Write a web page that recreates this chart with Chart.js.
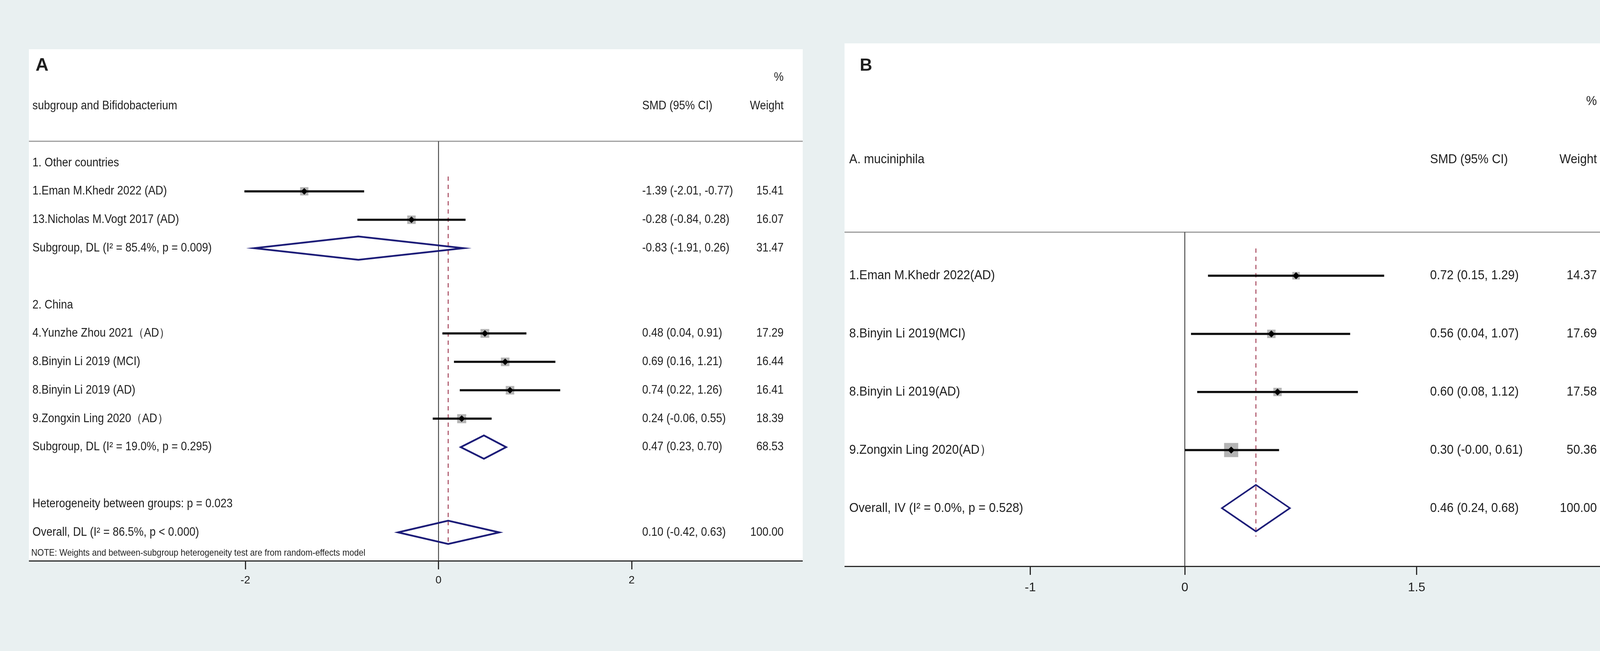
<!DOCTYPE html>
<html>
<head>
<meta charset="utf-8">
<script src="https://cdn.jsdelivr.net/npm/chart.js@4.4.1/dist/chart.umd.min.js"></script>
<style>
  html, body { margin: 0; padding: 0; background: #e9f0f1; }
  body { width: 4211px; height: 1667px; position: relative; overflow: hidden; }
  canvas { position: absolute; }
  #chartA { left: 74px; top: 126px; }
  #chartB { left: 2162px; top: 111px; }
</style>
</head>
<body>
<canvas id="chartA" width="1981" height="1414"></canvas>
<canvas id="chartB" width="1980" height="1449"></canvas>
<script>
// ---------- Panel A : subgroup and Bifidobacterium ----------
const studiesA = [
  "1.Eman M.Khedr 2022 (AD)",
  "13.Nicholas M.Vogt 2017 (AD)",
  "4.Yunzhe Zhou 2021（AD）",
  "8.Binyin Li 2019 (MCI)",
  "8.Binyin Li 2019 (AD)",
  "9.Zongxin Ling 2020（AD）"
];
const rowsA = [5, 6, 10, 11, 12, 13];
const esA = [-1.39, -0.28, 0.48, 0.69, 0.74, 0.24];
const loA = [-2.01, -0.84, 0.04, 0.16, 0.22, -0.06];
const hiA = [-0.77, 0.28, 0.91, 1.21, 1.26, 0.55];
const weightsA = [15.41, 16.07, 17.29, 16.44, 16.41, 18.39];

const pooledLabelsA = [
  "Subgroup, DL (I² = 85.4%, p = 0.009)",
  "Subgroup, DL (I² = 19.0%, p = 0.295)",
  "Overall, DL (I² = 86.5%, p < 0.000)"
];
const pooledRowsA = [7, 14, 17];
const pooledEsA = [-0.83, 0.47, 0.10];
const pooledLoA = [-1.91, 0.23, -0.42];
const pooledHiA = [0.26, 0.70, 0.63];
const pooledWeightsA = [31.47, 68.53, 100.00];

const groupLabelsA = ["1. Other countries", "2. China", "Heterogeneity between groups: p = 0.023"];
const groupRowsA = [4, 9, 16];
const ticksA = [-2, 0, 2];

// ---------- Panel B : A. muciniphila ----------
const studiesB = [
  "1.Eman M.Khedr 2022(AD)",
  "8.Binyin Li 2019(MCI)",
  "8.Binyin Li 2019(AD)",
  "9.Zongxin Ling 2020(AD）"
];
const rowsB = [4, 5, 6, 7];
const esB = [0.72, 0.56, 0.60, 0.30];
const loB = [0.15, 0.04, 0.08, -0.00];
const hiB = [1.29, 1.07, 1.12, 0.61];
const weightsB = [14.37, 17.69, 17.58, 50.36];

const pooledLabelsB = ["Overall, IV (I² = 0.0%, p = 0.528)"];
const pooledRowsB = [8];
const pooledEsB = [0.46];
const pooledLoB = [0.24];
const pooledHiB = [0.68];
const pooledWeightsB = [100.00];
const ticksB = [-1, 0, 1.5];

const FONT = '"Liberation Sans", Arial, sans-serif';
const INK = '#1e1e1e';

// keeps "-0.00" as Stata prints it
function fmt(v) {
  const neg = v < 0 || Object.is(v, -0);
  return (neg ? '-' : '') + Math.abs(v).toFixed(2);
}
function ciText(es, lo, hi) {
  return fmt(es) + ' (' + fmt(lo) + ', ' + fmt(hi) + ')';
}

// white panel, header rule and the text columns
const forestText = {
  id: 'forestText',
  beforeDraw(chart, args, opts) {
    const { ctx, chartArea } = chart;
    ctx.save();
    ctx.fillStyle = '#fff';
    ctx.fillRect(0, 0, chart.width, chartArea.bottom);
    const y = chart.scales.y.getPixelForValue(opts.sepRow);
    ctx.strokeStyle = '#9c9c9c';
    ctx.lineWidth = 3;
    ctx.beginPath();
    ctx.moveTo(0, y);
    ctx.lineTo(chart.width, y);
    ctx.stroke();
    ctx.restore();
  },
  afterDatasetsDraw(chart, args, opts) {
    const { ctx } = chart;
    const yScale = chart.scales.y;
    opts.items.forEach(it => {
      ctx.save();
      ctx.translate(it.x, yScale.getPixelForValue(it.row));
      ctx.scale(it.sx || opts.sx, 1);
      ctx.font = it.font || opts.font;
      ctx.fillStyle = INK;
      ctx.textAlign = it.align || 'left';
      ctx.textBaseline = 'middle';
      ctx.fillText(it.t, 0, 0);
      ctx.restore();
    });
  }
};

function buildForest(id, p) {
  const datasets = [];
  // study point estimates
  datasets.push({
    data: p.rows.map((r, i) => ({ x: p.es[i], y: r })),
    pointStyle: 'rectRot', pointRadius: p.dotR, backgroundColor: '#000', borderWidth: 0
  });
  // confidence intervals
  p.rows.forEach((r, i) => datasets.push({
    data: [{ x: p.lo[i], y: r }, { x: p.hi[i], y: r }],
    showLine: true, pointRadius: 0, borderColor: '#0d0d0d',
    borderWidth: p.ciWidth, borderCapStyle: 'butt'
  }));
  // weight boxes
  datasets.push({
    data: p.rows.map((r, i) => ({ x: p.es[i], y: r })),
    pointStyle: 'rect',
    pointRadius: c => p.boxK * Math.sqrt(p.weights[c.dataIndex]) / Math.SQRT2,
    backgroundColor: '#b4b4b4', borderWidth: 0
  });
  // pooled diamonds
  p.poolRows.forEach((r, i) => datasets.push({
    data: [
      { x: p.poolLo[i], y: r }, { x: p.poolEs[i], y: r - p.dh },
      { x: p.poolHi[i], y: r }, { x: p.poolEs[i], y: r + p.dh },
      { x: p.poolLo[i], y: r }, { x: p.poolEs[i], y: r - p.dh }
    ],
    showLine: true, pointRadius: 0, borderColor: '#1c1c78',
    borderWidth: p.diaWidth, borderJoinStyle: 'miter'
  }));
  // overall effect line
  datasets.push({
    data: [{ x: p.overall, y: p.refFrom }, { x: p.overall, y: p.refTo }],
    showLine: true, pointRadius: 0, borderColor: '#a6455b', borderWidth: 2.5, borderDash: [11, 10]
  });
  // no-effect line
  datasets.push({
    data: [{ x: 0, y: p.sepRow }, { x: 0, y: p.nRows }],
    showLine: true, pointRadius: 0, borderColor: '#2a2a2a', borderWidth: 2
  });

  const items = [];
  items.push({ t: p.letter, row: p.letterRow, x: p.letterX, font: 'bold ' + p.letterSize + 'px ' + FONT, sx: 1 });
  items.push({ t: '%', row: 1, x: p.wX, align: 'right' });
  items.push({ t: p.header, row: 2, x: p.labX });
  items.push({ t: 'SMD (95% CI)', row: 2, x: p.ciX });
  items.push({ t: 'Weight', row: 2, x: p.wX, align: 'right' });
  (p.groupLabels || []).forEach((g, i) => items.push({ t: g, row: p.groupRows[i], x: p.labX }));
  p.labels.forEach((s, i) => {
    items.push({ t: s, row: p.rows[i], x: p.labX });
    items.push({ t: ciText(p.es[i], p.lo[i], p.hi[i]), row: p.rows[i], x: p.ciX });
    items.push({ t: p.weights[i].toFixed(2), row: p.rows[i], x: p.wX, align: 'right' });
  });
  p.poolLabels.forEach((s, i) => {
    items.push({ t: s, row: p.poolRows[i], x: p.labX });
    items.push({ t: ciText(p.poolEs[i], p.poolLo[i], p.poolHi[i]), row: p.poolRows[i], x: p.ciX });
    items.push({ t: p.poolWeights[i].toFixed(2), row: p.poolRows[i], x: p.wX, align: 'right' });
  });
  if (p.note) items.push({ t: p.note, row: p.noteRow, x: p.noteX, font: p.noteSize + 'px ' + FONT, sx: 0.9 });

  return new Chart(document.getElementById(id), {
    type: 'scatter',
    data: { datasets },
    plugins: [forestText],
    options: {
      responsive: false,
      devicePixelRatio: 1,
      animation: false,
      events: [],
      layout: { padding: 0, autoPadding: false },
      scales: {
        x: {
          type: 'linear', min: p.xMin, max: p.xMax,
          afterBuildTicks: s => { s.ticks = p.ticks.map(v => ({ value: v })); },
          afterFit: s => { s.height = p.axisH; },
          grid: { drawOnChartArea: false, drawTicks: true, tickLength: 22, color: '#2a2a2a', lineWidth: 3 },
          border: { display: true, color: '#2a2a2a', width: 3 },
          ticks: {
            autoSkip: false, maxRotation: 0, padding: p.tickPad, color: INK,
            font: { family: FONT, size: p.tickSize },
            callback: v => String(v)
          }
        },
        y: { type: 'linear', display: false, reverse: true, min: 0, max: p.nRows }
      },
      plugins: {
        legend: { display: false },
        tooltip: { enabled: false },
        forestText: { items, sepRow: p.sepRow, font: p.fontSize + 'px ' + FONT, sx: p.sx }
      }
    }
  });
}

buildForest('chartA', {
  letter: 'A', letterRow: 0.58, letterX: 17, letterSize: 46,
  header: 'subgroup and Bifidobacterium',
  labels: studiesA, rows: rowsA, es: esA, lo: loA, hi: hiA, weights: weightsA,
  poolLabels: pooledLabelsA, poolRows: pooledRowsA, poolEs: pooledEsA,
  poolLo: pooledLoA, poolHi: pooledHiA, poolWeights: pooledWeightsA,
  groupLabels: groupLabelsA, groupRows: groupRowsA,
  note: 'NOTE: Weights and between-subgroup heterogeneity test are from random-effects model',
  noteRow: 17.73, noteX: 6, noteSize: 24,
  overall: pooledEsA[2], refFrom: 4.48, refTo: 17.4,
  sepRow: 3.24, nRows: 18, xMin: -4.241, xMax: 3.771, ticks: ticksA,
  axisH: 104, tickPad: 11, tickSize: 28,
  labX: 9, ciX: 1570, wX: 1932, fontSize: 31, sx: 0.9,
  dotR: 8.5, ciWidth: 5.5, boxK: 5.4, dh: 0.41, diaWidth: 4.5
});

buildForest('chartB', {
  letter: 'B', letterRow: 0.39, letterX: 39, letterSize: 44,
  header: 'A. muciniphila',
  labels: studiesB, rows: rowsB, es: esB, lo: loB, hi: hiB, weights: weightsB,
  poolLabels: pooledLabelsB, poolRows: pooledRowsB, poolEs: pooledEsB,
  poolLo: pooledLoB, poolHi: pooledHiB, poolWeights: pooledWeightsB,
  overall: pooledEsB[0], refFrom: 3.53, refTo: 8.49,
  sepRow: 3.25, nRows: 9, xMin: -2.202, xMax: 2.803, ticks: ticksB,
  axisH: 110, tickPad: 14, tickSize: 32,
  labX: 12, ciX: 1499, wX: 1926, fontSize: 34, sx: 0.91,
  dotR: 9, ciWidth: 5.5, boxK: 5.1, dh: 0.40, diaWidth: 4
});
</script>
</body>
</html>
